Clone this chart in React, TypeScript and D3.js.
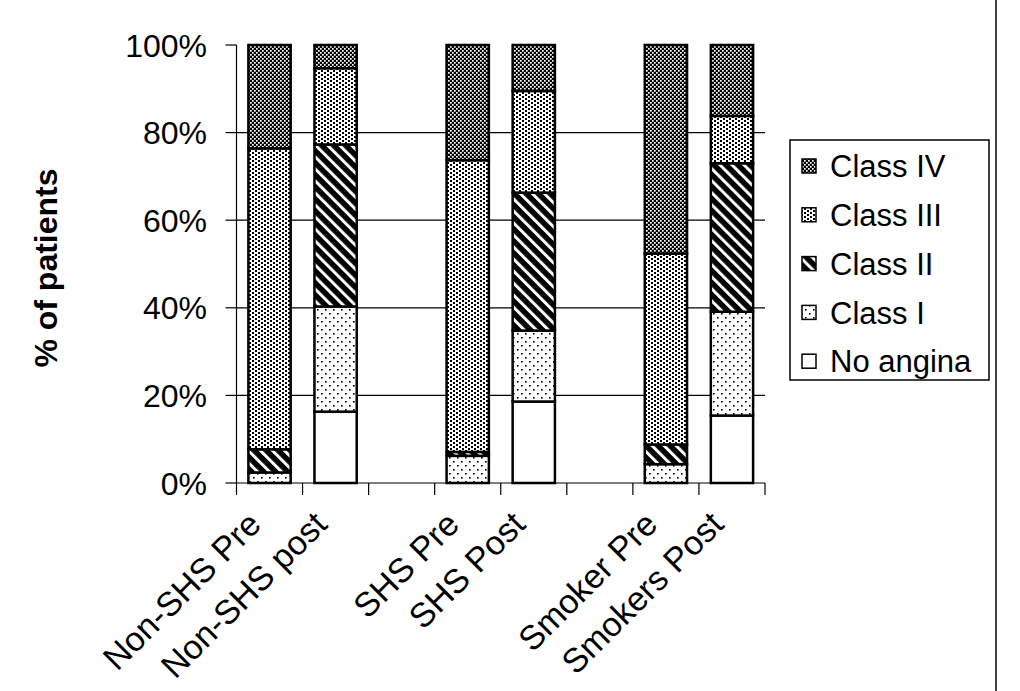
import React from "react";
import * as d3 from "d3";

const categories = ["Non-SHS Pre", "Non-SHS post", "SHS Pre", "SHS Post", "Smoker Pre", "Smokers Post"];
const categorySlot = [0, 1, 3, 4, 6, 7];
const slotCount = 8;

const seriesNames = ["No angina", "Class I", "Class II", "Class III", "Class IV"];
const noAngina = [0, 16.3, 0, 18.6, 0, 15.4];
const classI = [2.4, 24.0, 6.2, 16.2, 4.3, 23.7];
const classII = [5.3, 37.0, 0.9, 31.5, 4.5, 33.9];
const classIII = [68.7, 17.4, 66.6, 23.2, 43.6, 10.8];
const classIV = [23.6, 5.3, 26.3, 10.5, 47.6, 16.2];
const seriesValues = [noAngina, classI, classII, classIII, classIV];

const yTicks = [0, 20, 40, 60, 80, 100];
const gridTicks = [20, 40, 60, 80];
const legendOrder = ["Class IV", "Class III", "Class II", "Class I", "No angina"];
const patternIds = ["pNone", "pI", "pII", "pIII", "pIV"];

const W = 1020;
const H = 691;
const plotLeft = 236.5;
const plotRight = 765;
const plotTop = 45;
const plotBottom = 483;
const FONT = "'Liberation Sans', Arial, sans-serif";

export default function App() {
  const x = d3
    .scaleBand<number>()
    .domain(d3.range(slotCount))
    .range([plotLeft, plotRight])
    .paddingInner(0.36)
    .paddingOuter(0.18);
  const y = d3.scaleLinear().domain([0, 100]).range([plotBottom, plotTop]);

  const rows = categories.map((c, i) => {
    const r: any = { cat: c, slot: categorySlot[i] };
    seriesNames.forEach((s, k) => (r[s] = seriesValues[k][i]));
    return r;
  });
  const stacked = d3.stack<any>().keys(seriesNames)(rows);
  const step = x.step();

  return (
    <svg
      width={W}
      height={H}
      style={{ position: "absolute", left: 0, top: 0, background: "#fff" }}
      fontFamily={FONT}
    >
      <defs>
        <pattern id="pNone" patternUnits="userSpaceOnUse" width={4} height={4}>
          <rect width={4} height={4} fill="#fff" />
        </pattern>
        <pattern id="pI" patternUnits="userSpaceOnUse" width={8} height={8}>
          <rect width={8} height={8} fill="#fff" />
          <rect x={1} y={1} width={1.6} height={1.6} fill="#000" />
          <rect x={5} y={5} width={1.6} height={1.6} fill="#000" />
        </pattern>
        <pattern
          id="pII"
          patternUnits="userSpaceOnUse"
          width={8.5}
          height={8.5}
          patternTransform="rotate(-45)"
        >
          <rect width={8.5} height={8.5} fill="#000" />
          <rect x={0} y={0} width={3} height={8.5} fill="#fff" />
        </pattern>
        <pattern id="pIII" patternUnits="userSpaceOnUse" width={6} height={4}>
          <rect width={6} height={4} fill="#fff" />
          <rect x={0} y={0} width={2} height={2} fill="#000" />
          <rect x={3} y={2} width={2} height={2} fill="#000" />
        </pattern>
        <pattern id="pIV" patternUnits="userSpaceOnUse" width={4} height={4}>
          <rect width={4} height={4} fill="#000" />
          <rect x={0} y={0} width={1.7} height={1.7} fill="#fff" />
          <rect x={2} y={2} width={1.7} height={1.7} fill="#fff" />
        </pattern>
      </defs>

      {/* gridlines */}
      {gridTicks.map((t) => (
        <line key={t} x1={plotLeft} x2={plotRight} y1={y(t)} y2={y(t)} stroke="#000" strokeWidth={1.2} />
      ))}

      {/* bars */}
      {stacked.map((layer, k) =>
        layer.map((d, i) => {
          const h = y(d[0]) - y(d[1]);
          if (h <= 0.01) return null;
          return (
            <rect
              key={`${k}-${i}`}
              x={x(d.data.slot)}
              y={y(d[1])}
              width={x.bandwidth()}
              height={h}
              fill={`url(#${patternIds[k]})`}
              stroke="#000"
              strokeWidth={2.5}
            />
          );
        })
      )}

      {/* y axis */}
      <line x1={plotLeft} x2={plotLeft} y1={plotTop} y2={plotBottom} stroke="#000" strokeWidth={1.2} />
      {yTicks.map((t) => (
        <g key={t}>
          <line x1={plotLeft - 11} x2={plotLeft} y1={y(t)} y2={y(t)} stroke="#000" strokeWidth={1.2} />
          <text x={207} y={y(t)} dy="0.36em" textAnchor="end" fontSize={32}>
            {t}%
          </text>
        </g>
      ))}

      {/* x axis */}
      <line x1={plotLeft} x2={plotRight} y1={plotBottom} y2={plotBottom} stroke="#000" strokeWidth={1.2} />
      {d3.range(slotCount + 1).map((k) => {
        const xx = plotLeft + k * step;
        return <line key={k} x1={xx} x2={xx} y1={plotBottom} y2={plotBottom + 12} stroke="#000" strokeWidth={1.2} />;
      })}
      {categories.map((c, i) => {
        const cx = (x(categorySlot[i]) as number) + x.bandwidth() / 2;
        const ax = cx - 15;
        const ay = 518;
        return (
          <text
            key={c}
            x={ax}
            y={ay}
            textAnchor="end"
            fontSize={34}
            dy="0.35em"
            transform={`rotate(-45, ${ax}, ${ay})`}
          >
            {c}
          </text>
        );
      })}

      {/* y title */}
      <text
        x={0}
        y={0}
        transform={`translate(57, 268) rotate(-90)`}
        textAnchor="middle"
        fontSize={32}
        fontWeight="bold"
      >
        % of patients
      </text>

      {/* legend */}
      <rect x={790} y={140} width={199} height={240} fill="#fff" stroke="#000" strokeWidth={1.5} />
      {legendOrder.map((name, j) => {
        const k = seriesNames.indexOf(name);
        const cy = 166 + j * 48.8;
        return (
          <g key={name}>
            <rect x={802} y={cy - 7} width={14} height={14} fill={`url(#${patternIds[k]})`} stroke="#000" strokeWidth={1.5} />
            <text x={830} y={cy} dy="0.36em" fontSize={31}>
              {name}
            </text>
          </g>
        );
      })}

      {/* right border */}
      <line x1={996} x2={996} y1={0} y2={H} stroke="#000" strokeWidth={1.5} />
    </svg>
  );
}
